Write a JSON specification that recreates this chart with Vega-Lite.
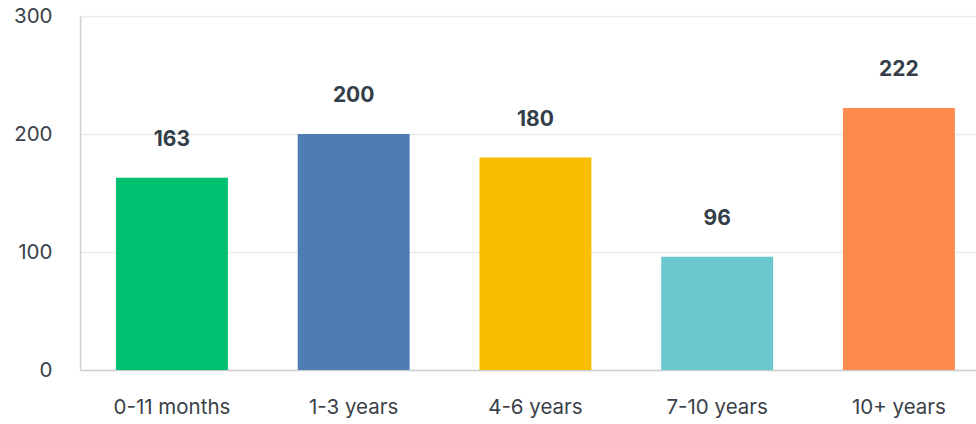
{
  "$schema": "https://vega.github.io/schema/vega-lite/v6.json",
  "autosize": "none",
  "width": 896,
  "height": 354,
  "padding": {"left": 80, "top": 16, "right": 0, "bottom": 54},
  "background": "white",
  "config": {"view": {"stroke": null}, "font": "Inter"},
  "data": {"values": [
    {"group": "0-11 months", "count": 163, "color": "#00bf6f"},
    {"group": "1-3 years", "count": 200, "color": "#507cb6"},
    {"group": "4-6 years", "count": 180, "color": "#f9be00"},
    {"group": "7-10 years", "count": 96, "color": "#6bc8cd"},
    {"group": "10+ years", "count": 222, "color": "#ff8b4f"}
  ]},
  "encoding": {
    "x": {"field": "group", "type": "nominal", "sort": null,
      "scale": {"paddingInner": 0.384, "paddingOuter": 0.157, "align": 0.63},
      "axis": {"title": null, "labelAngle": 0, "ticks": false, "labelPadding": 27, "labelFontSize": 20.5, "labelColor": "#3a4149", "domainColor": "#cfcfcf", "domainWidth": 1.5, "labelFont": "Inter"}},
    "y": {"field": "count", "type": "quantitative",
      "scale": {"domain": [0, 300]},
      "axis": {"title": null, "values": [0, 100, 200, 300], "ticks": false, "labelPadding": 28, "labelFontSize": 20.5, "labelColor": "#3a4149", "domainColor": "#cfcfcf", "domainWidth": 1.5, "gridColor": "#ececec", "gridWidth": 1.5, "labelFont": "Inter"}}
  },
  "layer": [
    {"mark": {"type": "bar"}, "encoding": {"color": {"field": "color", "type": "nominal", "scale": null, "legend": null}}},
    {"mark": {"type": "text", "baseline": "middle", "dy": -38, "fontSize": 21, "fontWeight": "bold", "color": "#333e48", "font": "Inter"},
     "encoding": {"text": {"field": "count", "type": "quantitative"}}}
  ]
}
